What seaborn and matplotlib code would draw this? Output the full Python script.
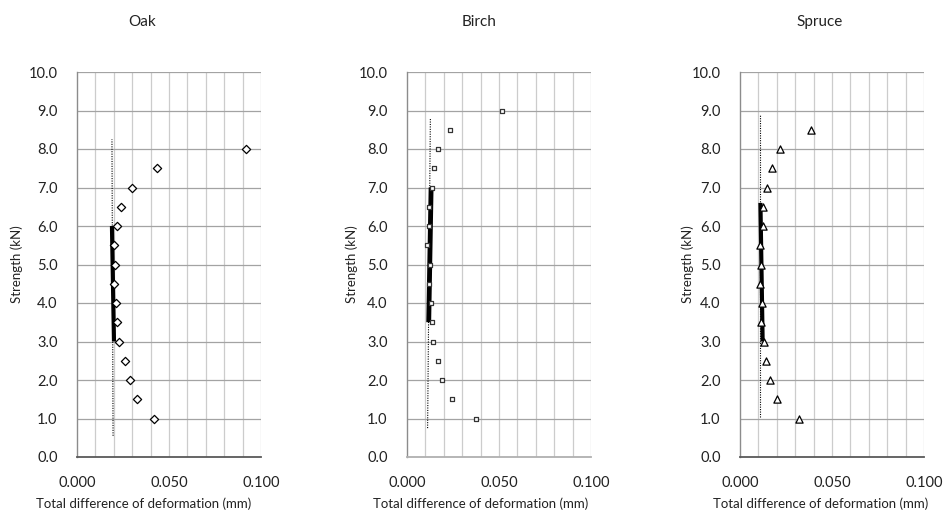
import numpy as np
import pandas as pd
import matplotlib
matplotlib.use("Agg")
import matplotlib.pyplot as plt
import seaborn as sns

# Strength levels (kN) shared by the three species
strength = [1.0, 1.5, 2.0, 2.5, 3.0, 3.5, 4.0, 4.5, 5.0, 5.5, 6.0, 6.5, 7.0, 7.5, 8.0, 8.5, 9.0]

# Total difference of deformation (mm)
oak_strength = strength[:15]
oak_def = [0.0418, 0.0328, 0.0288, 0.0261, 0.0228, 0.0217, 0.0210, 0.0201, 0.0205,
           0.0203, 0.0219, 0.0239, 0.0301, 0.0437, 0.0918]

birch_strength = strength
birch_def = [0.0373, 0.0243, 0.0192, 0.0167, 0.0140, 0.0134, 0.0129, 0.0120, 0.0123,
             0.0110, 0.0121, 0.0120, 0.0134, 0.0145, 0.0167, 0.0234, 0.0514]

spruce_strength = strength[:16]
spruce_def = [0.0321, 0.0199, 0.0161, 0.0143, 0.0130, 0.0114, 0.0118, 0.0109, 0.0116,
              0.0109, 0.0125, 0.0127, 0.0147, 0.0172, 0.0217, 0.0386]

# dotted reference lines (x at bottom/top, strength at bottom/top)
oak_dot_x = [0.0196, 0.0190]
oak_dot_y = [0.55, 8.25]
birch_dot_x = [0.0112, 0.0127]
birch_dot_y = [0.75, 8.8]
spruce_dot_x = [0.0109, 0.0109]
spruce_dot_y = [1.05, 8.9]

# thick linear range lines
oak_lin_x = [0.0201, 0.0190]
oak_lin_y = [3.0, 6.0]
birch_lin_x = [0.0118, 0.0131]
birch_lin_y = [3.5, 7.0]
spruce_lin_x = [0.0123, 0.0111]
spruce_lin_y = [3.0, 6.6]

species = ["Oak", "Birch", "Spruce"]

sns.set_style("white")
plt.rcParams['font.family'] = ['Lato', 'DejaVu Sans']

fig = plt.figure(figsize=(9.43, 5.16), dpi=100)

# panel positions in pixels (left, right)
W, H = 943, 516
panels = [(77, 261), (407, 591), (740, 924)]
title_x = [142, 479, 820]
xlab_x = [144, 481, 821]
ylab_x = [17, 352, 688]
xaxis_col = ["#595959", "#b0b0b0", "#595959"]

data = [
    (oak_def, oak_strength, "D", 4.2, "black", oak_dot_x, oak_dot_y, oak_lin_x, oak_lin_y, 3.0),
    (birch_def, birch_strength, "s", 3.4, "#333333", birch_dot_x, birch_dot_y, birch_lin_x, birch_lin_y, 3.5),
    (spruce_def, spruce_strength, "^", 5.2, "black", spruce_dot_x, spruce_dot_y, spruce_lin_x, spruce_lin_y, 3.0),
]

for i, (name, (l, r)) in enumerate(zip(species, panels)):
    ax = fig.add_axes([l / W, (H - 457) / H, (r - l) / W, 385 / H])
    xs, ys, mk, ms, ec, dx, dy, lx, ly, lw = data[i]
    df = pd.DataFrame({"def": xs, "strength": ys})

    ax.set_xlim(0, 0.1)
    ax.set_ylim(0, 10)

    # grid
    for xv in np.arange(0.01, 0.1001, 0.01):
        ax.axvline(xv, color="#cccccc", lw=0.9, zorder=0)
    for yv in np.arange(1, 10.01, 1):
        ax.axhline(yv, color="#a3a3a3", lw=0.9, zorder=0)

    ax.plot(dx, dy, color="black", lw=0.8, ls=(0, (1, 1.2)), zorder=2)
    ax.plot(lx, ly, color="black", lw=lw, solid_capstyle="butt", zorder=3)

    sns.scatterplot(data=df, x="def", y="strength", marker=mk, s=ms ** 2,
                    facecolor="white", edgecolor=ec, linewidth=0.9,
                    ax=ax, zorder=4, legend=False)

    ax.set_xticks([0, 0.05, 0.1])
    ax.set_xticklabels(["0.000", "0.050", "0.100"])
    ax.set_yticks(np.arange(0, 10.01, 1))
    ax.set_yticklabels([f"{v:.1f}" for v in np.arange(0, 10.01, 1)])
    ax.tick_params(axis="x", direction="inout", length=8, width=1, color=xaxis_col[i],
                   pad=10, labelsize=10.5, labelcolor="#222222")
    ax.tick_params(axis="y", direction="out", length=6, width=1, color="#8c8c8c",
                   pad=8, labelsize=10.5, labelcolor="#222222")
    ax.set_xlabel("")
    ax.set_ylabel("")

    for s in ["top", "right"]:
        ax.spines[s].set_visible(False)
    ax.spines["bottom"].set_color(xaxis_col[i])
    ax.spines["bottom"].set_linewidth(1.3)
    ax.spines["left"].set_color("#8c8c8c")
    ax.spines["left"].set_linewidth(1.0)
    ax.spines["bottom"].set_zorder(5)

    fig.text(title_x[i] / W, 1 - 22 / H, name, ha="center", va="center", fontsize=11,
             color="#222222")
    fig.text(xlab_x[i] / W, 1 - 504 / H, "Total difference of deformation (mm)",
             ha="center", va="center", fontsize=9.5, color="#222222")
    fig.text(ylab_x[i] / W, 1 - 264 / H, "Strength (kN)", ha="center", va="center",
             rotation=90, fontsize=9.5, color="#222222")

fig.savefig("out.png", dpi=100, facecolor="white")
